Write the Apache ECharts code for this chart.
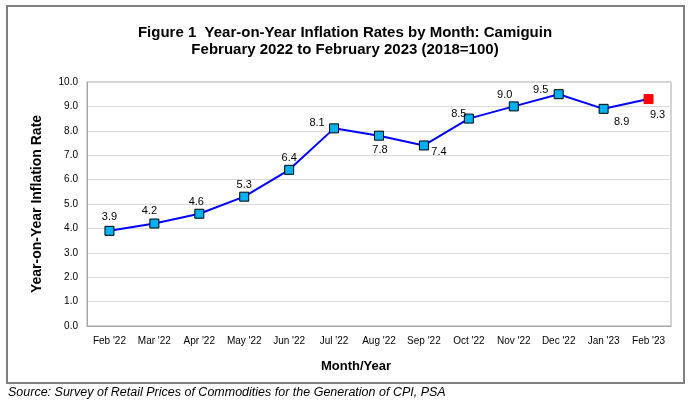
<!DOCTYPE html>
<html>
<head>
<meta charset="utf-8">
<script src="https://cdn.jsdelivr.net/npm/echarts@6/dist/echarts.min.js"></script>
<style>
html,body{margin:0;padding:0;background:#fff;}
#c{width:693px;height:402px;}
</style>
</head>
<body>
<div id="c"></div>
<script>
const categories = ["Feb '22","Mar '22","Apr '22","May '22","Jun '22","Jul '22","Aug '22","Sep '22","Oct '22","Nov '22","Dec '22","Jan '23","Feb '23"];
const rates = [3.9, 4.2, 4.6, 5.3, 6.4, 8.1, 7.8, 7.4, 8.5, 9.0, 9.5, 8.9, 9.3];
const labelOffsets = [[0,-14],[-5,-13],[-3,-12],[0,-12],[0,-12],[-17,-5],[1,14],[15,7],[-10,-5],[-9,-11],[-18,-4],[18,13],[9,16]];

const FONT = 'Liberation Sans, Arial, sans-serif';
const chart = echarts.init(document.getElementById('c'), null, {renderer:'canvas'});

const seriesData = rates.map((v, i) => {
  const last = i === rates.length - 1;
  return {
    value: v,
    itemStyle: last ? {color:'#FF0000', borderColor:'#FF0000', borderWidth:1} : {color:'#00B0F0', borderColor:'#000000', borderWidth:1},
    label: {offset: labelOffsets[i]}
  };
});

chart.setOption({
  animation: false,
  backgroundColor: '#ffffff',
  title: {
    text: 'Figure 1  Year-on-Year Inflation Rates by Month: Camiguin\nFebruary 2022 to February 2023 (2018=100)',
    left: 340, textAlign: 'center', top: 19,
    textStyle: {fontFamily: FONT, fontSize: 15, fontWeight: 'bold', color:'#000', lineHeight: 17}
  },
  graphic: [
    {type:'rect', shape:{x:7, y:6, width:677, height:377}, style:{fill:'none', stroke:'#7f7f7f', lineWidth:2}, z:-1},
    {type:'text', left: 8, top: 386, style:{text:'Source: Survey of Retail Prices of Commodities for the Generation of CPI, PSA', font:'italic 12.5px ' + FONT, fill:'#000'}},
    {type:'text', x: 356, y: 366, style:{text:'Month/Year', font:'bold 13px ' + FONT, fill:'#000', align:'center', verticalAlign:'middle'}}
  ],
  grid: {left: 87, right: 22, top: 82, bottom: 76, show: true, borderColor:'#A6A6A6', borderWidth:1},
  xAxis: {
    type: 'category', data: categories, boundaryGap: true,
    axisLine: {lineStyle:{color:'#A6A6A6'}}, axisTick: {show:false},
    axisLabel: {fontFamily: FONT, fontSize: 10, color:'#000', margin: 10, interval: 0}
  },
  yAxis: {
    type: 'value', min: 0, max: 10, interval: 1,
    name: 'Year-on-Year Inflation Rate', nameLocation: 'middle', nameGap: 43, nameRotate: 90,
    nameTextStyle: {fontFamily: FONT, fontSize: 14, fontWeight:'bold', color:'#000'},
    axisLine: {show:true, lineStyle:{color:'#A6A6A6'}}, axisTick: {show:false},
    splitLine: {lineStyle:{color:'#D9D9D9'}},
    axisLabel: {fontFamily: FONT, fontSize: 10, color:'#000', margin: 9, formatter: v => v.toFixed(1)}
  },
  series: [{
    type: 'line', data: seriesData,
    symbol: 'rect', symbolSize: 9,
    lineStyle: {color:'#0000FF', width: 2},
    label: {show: true, position: 'inside', fontFamily: FONT, fontSize: 11, color:'#000', formatter: p => p.value.toFixed(1)}
  }]
});
</script>
</body>
</html>
